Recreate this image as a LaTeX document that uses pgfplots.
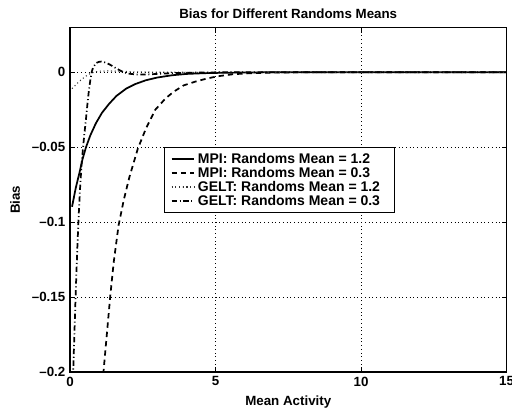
\documentclass[border=0pt]{standalone}
\usepackage{pgfplots}
\pgfplotsset{compat=1.18}
\usepackage{fontspec}
\setmainfont{Liberation Sans}
\usetikzlibrary{calc}
\begin{document}
\begin{tikzpicture}
\begin{axis}[
  width=327.4pt, height=258.5pt, scale only axis,
  xmin=0, xmax=15, ymin=-0.2, ymax=0.03,
  xtick={0,5,10,15}, xticklabels={0,5,10,15},
  ytick={-0.2,-0.15,-0.1,-0.05,0},
  yticklabels={–0.2,–0.15,–0.1,–0.05,0},
  tick align=inside, major tick length=3.5pt,
  tick style={black, line width=0.6pt},
  xtick pos=both, ytick pos=both,
  ticklabel style={font=\bfseries},
  grid=major,
  major grid style={black, line width=0.45pt, dash pattern=on 0.5pt off 2.3pt},
  axis line style={line width=0.9pt},
  every axis title shift=0pt,
  title={Bias for Different Randoms Means},
  title style={font=\bfseries, at={(0.5,1)}, anchor=base, yshift=6.8pt},
  xlabel={Mean Activity},
  xlabel style={font=\bfseries, at={(0.5,0)}, anchor=base, yshift=-25pt},
  ylabel={Bias},
  ylabel style={font=\bfseries, at={(0,0.5)}, anchor=base, yshift=37.5pt},
  legend style={at={(0.479,0.557)}, anchor=center, font=\bfseries\fontsize{10.5}{12.6}\selectfont,
    draw=black, line width=0.4pt, inner xsep=5pt, inner ysep=2.2pt,
    row sep=-2.6pt},
  legend cell align=left,
]
\addplot[black, line width=1.3pt] coordinates {
(0.07,-0.0897)(0.2,-0.077)(0.32,-0.0675)(0.43,-0.058)(0.55,-0.050)(0.7,-0.042)
(0.89,-0.034)(1.1,-0.027)(1.35,-0.0209)(1.6,-0.0157)(1.93,-0.0109)(2.25,-0.0078)
(2.61,-0.0053)(3.0,-0.0035)(3.5,-0.002)(4.0,-0.0011)(4.6,-0.0006)(5.3,-0.0003)
(6.2,-0.0001)(7,0)(15,0)};
\addlegendentry{MPI: Randoms Mean = 1.2\hspace*{11pt}}
\addplot[black, line width=1.3pt, dash pattern=on 4pt off 3pt] coordinates {
(1.0,-0.245)(1.15,-0.2)(1.38,-0.15)(1.5,-0.127)(1.67,-0.102)(1.85,-0.085)
(2.04,-0.07)(2.33,-0.051)(2.61,-0.0375)(2.93,-0.025)(3.28,-0.0175)(3.56,-0.013)
(3.9,-0.0088)(4.31,-0.0062)(4.7,-0.0042)(5.06,-0.0027)(5.6,-0.0013)(6.2,-0.0006)
(7,-0.0002)(8,0)(15,0)};
\addlegendentry{MPI: Randoms Mean = 0.3}
\addplot[black!80, line width=0.8pt, dash pattern=on 0.8pt off 2pt] coordinates {
(0.07,-0.0109)(0.2,-0.0083)(0.3,-0.0064)(0.38,-0.0051)(0.5,-0.0032)(0.61,-0.0018)
(0.7,-0.0008)(0.85,0.0002)(1.0,0.0007)(1.3,0.0009)(1.7,0.0007)(2.2,0.0003)
(3,0.0001)(4,0)(15,0)};
\addlegendentry{GELT: Randoms Mean = 1.2}
\addplot[black, line width=1.3pt, dash pattern=on 4pt off 2pt on 0.8pt off 2pt] coordinates {
(0.07,-0.235)(0.11,-0.2)(0.15,-0.175)(0.2,-0.145)(0.25,-0.118)(0.3,-0.095)
(0.35,-0.076)(0.4,-0.061)(0.45,-0.05)(0.5,-0.04)(0.55,-0.031)(0.6,-0.021)
(0.65,-0.012)(0.7,-0.005)(0.75,0.0005)(0.8,0.0035)(0.9,0.0062)(1.0,0.0070)
(1.1,0.0072)(1.25,0.0063)(1.4,0.0048)(1.6,0.0025)(1.8,0.0004)(2.0,-0.0009)
(2.3,-0.0015)(2.7,-0.0014)(3.1,-0.001)(3.6,-0.0005)(4.5,-0.0001)(5.5,0)(15,0)};
\addlegendentry{GELT: Randoms Mean = 0.3}
\end{axis}
\pgfresetboundingbox
\path[use as bounding box] ($(current axis.south west)+(-52.5pt,-30.75pt)$) rectangle ($(current axis.north east)+(4.1pt,20.5pt)$);
\end{tikzpicture}
\end{document}
